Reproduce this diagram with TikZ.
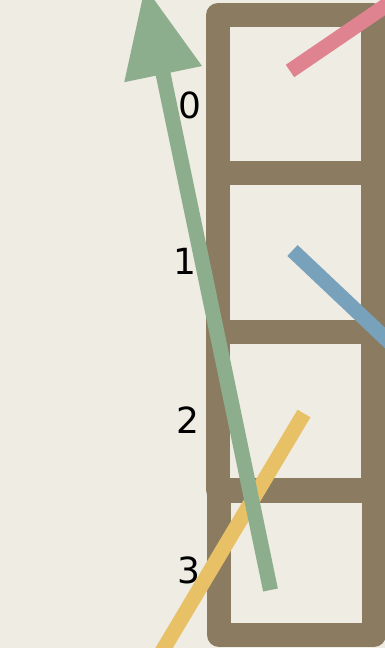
\documentclass[tikz,border=0pt]{standalone}
\usepackage{fontspec}
\setmainfont{DejaVu Sans}
\usetikzlibrary{arrows.meta}
\definecolor{bg}{HTML}{EFECE3}
\definecolor{cellbrown}{HTML}{8A7B61}
\definecolor{pinkbar}{HTML}{E08391}
\definecolor{bluebar}{HTML}{78A2BC}
\definecolor{yellowbar}{HTML}{E8C167}
\definecolor{greenbar}{HTML}{8DAE8C}
\begin{document}
\begin{tikzpicture}[x=1pt,y=-1pt,
  cell/.style={draw=cellbrown,line width=24pt,line join=round},
  bar/.style={line width=15pt,line cap=butt},
  lbl/.style={font=\fontsize{36}{36}\selectfont,inner sep=0pt,text=black}]
\useasboundingbox (0,0) rectangle (385,648);
\fill[bg] (0,0) rectangle (385,648);
\clip (0,0) rectangle (385,648);
% cells
\draw[cell] (218,15) rectangle (373,173);
\draw[cell] (218,173) rectangle (373,332);
\draw[cell] (218,332) rectangle (373,490);
\draw[cell] (219,491) rectangle (374,635);
% labels
\node[lbl] (l0) at (190,105) {0};
\node[lbl] (l1) at (185,261) {1};
\node[lbl] (l2) at (188,420.5) {2};
\node[lbl] (l3) at (189,570) {3};
% bars
\coordinate (p0) at (290,71);
\coordinate (p1) at (510,-79);
\draw[bar,pinkbar] (p0) -- (p1);
\coordinate (b0) at (292.5,250.5);
\coordinate (b1) at (442.5,392.3);
\draw[bar,bluebar] (b0) -- (b1);
\coordinate (y0) at (304,413.5);
\coordinate (y1) at (122,718.5);
\draw[bar,yellowbar] (y0) -- (y1);
\coordinate (g0) at (270.5,590);
\coordinate (g1) at (144.8,-14);
\draw[bar,greenbar,-{Triangle[length=90pt,width=75pt]}] (g0) -- (g1);
\end{tikzpicture}
\end{document}
